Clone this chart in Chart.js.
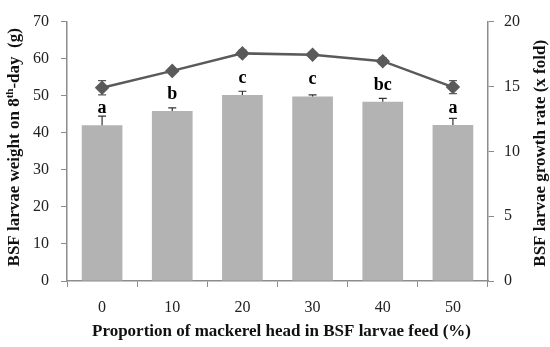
<!DOCTYPE html>
<html>
<head>
<meta charset="utf-8">
<script src="https://cdn.jsdelivr.net/npm/chart.js@4"></script>
<style>
  html, body { margin: 0; padding: 0; background: #fff; }
  #wrap { width: 550px; height: 347px; }
</style>
</head>
<body>
<div id="wrap"><canvas id="chart"></canvas></div>
<script>
// data
const categories = ['0', '10', '20', '30', '40', '50'];
const weight = [42.0, 45.9, 50.2, 49.8, 48.4, 42.1];
const weightErr = [2.5, 0.8, 1.0, 0.4, 0.9, 1.8];
const letters = ['a', 'b', 'c', 'c', 'bc', 'a'];
const growth = [14.9, 16.2, 17.55, 17.45, 16.95, 14.95];
const growthErr = [0.55, 0.12, 0.25, 0.1, 0.25, 0.5];

const serif = "'Liberation Serif', 'DejaVu Serif', serif";
const axisGray = '#8c8c8c';
const lineGray = '#5a5a5a';

// error bars, significance letters, axis titles
const extras = {
    id: 'extras',
    afterDatasetsDraw(chart) {
        const ctx = chart.ctx;
        const x = chart.scales.x, y = chart.scales.y, y1 = chart.scales.y1;
        ctx.save();
        ctx.lineWidth = 1.2;
        // bar error bars (upper only)
        ctx.strokeStyle = '#333';
        weight.forEach((v, i) => {
            const cx = x.getPixelForValue(i);
            const top = y.getPixelForValue(v + weightErr[i]);
            const base = y.getPixelForValue(v);
            ctx.beginPath();
            ctx.moveTo(cx, base); ctx.lineTo(cx, top);
            ctx.moveTo(cx - 4, top); ctx.lineTo(cx + 4, top);
            ctx.stroke();
        });
        // line error bars
        ctx.strokeStyle = lineGray;
        growth.forEach((v, i) => {
            const cx = x.getPixelForValue(i);
            const top = y1.getPixelForValue(v + growthErr[i]);
            const bot = y1.getPixelForValue(v - growthErr[i]);
            ctx.beginPath();
            ctx.moveTo(cx, bot); ctx.lineTo(cx, top);
            ctx.moveTo(cx - 4, top); ctx.lineTo(cx + 4, top);
            ctx.moveTo(cx - 4, bot); ctx.lineTo(cx + 4, bot);
            ctx.stroke();
        });
        // letters above bars
        ctx.fillStyle = '#000';
        ctx.font = 'bold 18px ' + serif;
        ctx.textAlign = 'center';
        ctx.textBaseline = 'alphabetic';
        letters.forEach((t, i) => {
            const cx = x.getPixelForValue(i);
            const top = y.getPixelForValue(weight[i]);
            ctx.fillText(t, cx, top - 12);
        });

        // axis titles
        const area = chart.chartArea;
        const midY = (area.top + area.bottom) / 2;
        ctx.fillStyle = '#111';
        ctx.textBaseline = 'middle';

        // x title
        ctx.font = 'bold 17px ' + serif;
        ctx.textAlign = 'center';
        ctx.fillText('Proportion of mackerel head in BSF larvae feed (%)', (area.left + area.right) / 2 + 4, 332);

        // left title with superscript
        ctx.save();
        ctx.translate(15, midY - 4);
        ctx.rotate(-Math.PI / 2);
        const big = 'bold 17px ' + serif, small = 'bold 11px ' + serif;
        const p1 = 'BSF larvae weight on 8', p2 = 'th', p3 = '-day  (g)';
        ctx.font = big; const w1 = ctx.measureText(p1).width, w3 = ctx.measureText(p3).width;
        ctx.font = small; const w2 = ctx.measureText(p2).width;
        let sx = -(w1 + w2 + w3) / 2;
        ctx.textAlign = 'left';
        ctx.font = big; ctx.fillText(p1, sx, 0); sx += w1;
        ctx.font = small; ctx.fillText(p2, sx, -5); sx += w2;
        ctx.font = big; ctx.fillText(p3, sx, 0);
        ctx.restore();

        // right title, reading upward
        ctx.save();
        ctx.translate(541, midY + 2);
        ctx.rotate(-Math.PI / 2);
        ctx.font = 'bold 17px ' + serif;
        ctx.textAlign = 'center';
        ctx.fillText('BSF larvae growth rate (x fold)', 0, 0);
        ctx.restore();

        ctx.restore();
    }
};

new Chart(document.getElementById('chart'), {
    type: 'bar',
    data: {
        labels: categories,
        datasets: [
            {
                type: 'line',
                label: 'Growth rate',
                data: growth,
                yAxisID: 'y1',
                borderColor: lineGray,
                backgroundColor: lineGray,
                borderWidth: 2.5,
                pointStyle: 'rectRot',
                pointRadius: 5.5,
                tension: 0,
                order: 0
            },
            {
                label: 'Weight',
                data: weight,
                yAxisID: 'y',
                backgroundColor: '#b3b3b3',
                categoryPercentage: 0.58,
                barPercentage: 1,
                order: 1
            }
        ]
    },
    options: {
        responsive: true,
        maintainAspectRatio: false,
        animation: false,
        layout: { padding: { top: 16, right: 0, left: 0, bottom: 0 } },
        plugins: {
            legend: { display: false },
            tooltip: { enabled: false }
        },
        scales: {
            x: {
                offset: true,
                grid: { offset: true, drawOnChartArea: false, drawTicks: true, tickLength: 6, color: axisGray },
                border: { color: axisGray, width: 1.5 },
                ticks: { color: '#222', font: { family: serif, size: 16 }, padding: 11 },
                afterFit(scale) { scale.height = 66; }
            },
            y: {
                position: 'left',
                min: 0, max: 70,
                ticks: { stepSize: 10, color: '#222', font: { family: serif, size: 16 }, padding: 12 },
                grid: { drawOnChartArea: false, tickLength: 6, color: axisGray },
                border: { color: axisGray, width: 1.5 },
                afterFit(scale) { scale.width = 67; }
            },
            y1: {
                position: 'right',
                min: 0, max: 20,
                ticks: { stepSize: 5, color: '#222', font: { family: serif, size: 16 }, padding: 10 },
                grid: { drawOnChartArea: false, tickLength: 6, color: axisGray },
                border: { color: axisGray, width: 1.5 },
                afterFit(scale) { scale.width = 62; }
            }
        }
    },
    plugins: [extras]
});
</script>
</body>
</html>
